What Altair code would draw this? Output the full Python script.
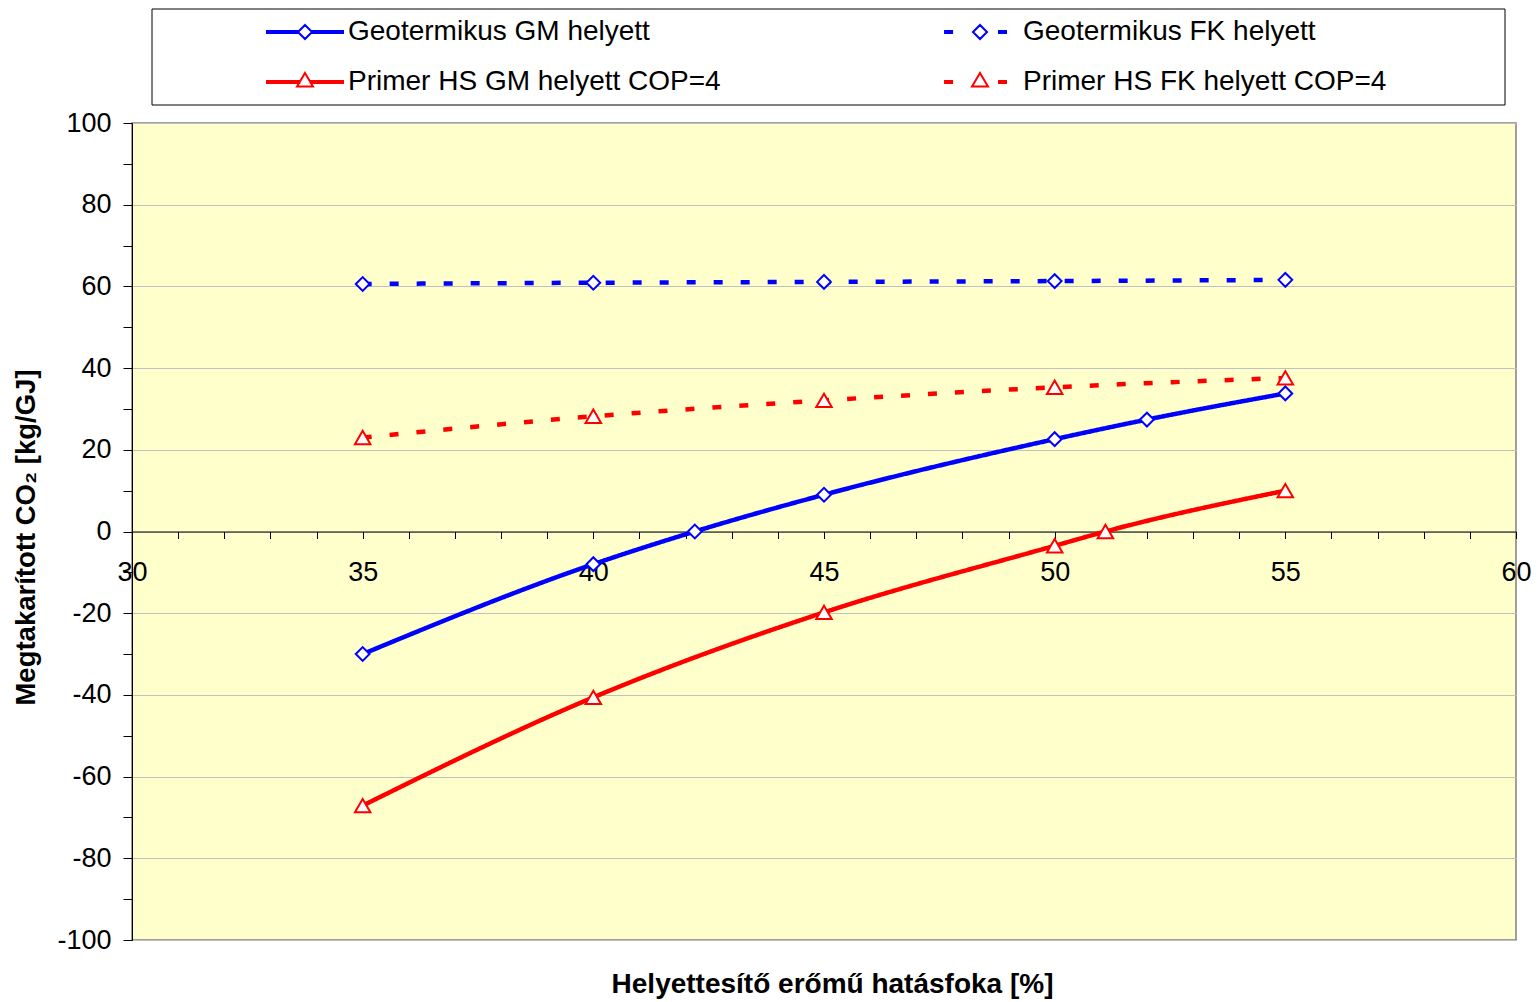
import altair as alt
import pandas as pd

# ---- data ----
series_names = ["Geotermikus GM helyett", "Geotermikus FK helyett",
                "Primer HS GM helyett COP=4", "Primer HS FK helyett COP=4"]

geo_gm_x = [35, 40, 42.2, 45, 50, 52, 55]
geo_gm_y = [-30.0, -8.0, 0.0, 9.0, 22.6, 27.4, 33.8]

geo_fk_x = [35, 40, 45, 50, 55]
geo_fk_y = [60.6, 60.9, 61.1, 61.3, 61.6]

prim_gm_x = [35, 40, 45, 50, 51.1, 55]
prim_gm_y = [-67.1, -40.6, -19.8, -3.5, 0.0, 10.0]

prim_fk_x = [35, 40, 45, 50, 55]
prim_fk_y = [23.0, 28.2, 32.1, 35.3, 37.6]

x_ticks = list(range(30, 61))
y_ticks = list(range(-100, 101, 10))

# ---- styles ----
FONT = "Liberation Sans"
FS = 27
BLUE, RED = "#0000FF", "#FF0000"
legend_colors = [BLUE, BLUE, RED, RED]

# order used by the (legend-less) drawing scales
draw_order = [series_names[0], series_names[2], series_names[1], series_names[3]]
draw_colors = [BLUE, RED, BLUE, RED]
draw_dashes = [[1, 0], [1, 0], [9, 18], [9, 18]]

bar_l = "M-2,-0.05L-0.38,-0.05L-0.38,0.05L-2,0.05Z"
bar_r = "M0.38,-0.05L2,-0.05L2,0.05L0.38,0.05Z"
tbar_l = "M-2,-0.05L-0.3,-0.05L-0.3,0.05L-2,0.05Z"
tbar_r = "M0.3,-0.05L2,-0.05L2,0.05L0.3,0.05Z"
dash_l = "M-1.84,-0.05L-1.47,-0.05L-1.47,0.05L-1.84,0.05Z"
dash_r = "M1,-0.05L1.37,-0.05L1.37,0.05L1,0.05Z"
diamond = "M0,-0.37L0.37,0L0,0.37L-0.37,0Z"
triangle = "M0,-0.48L0.42,0.24L-0.42,0.24Z"
legend_paths = [
    bar_l + bar_r + diamond,
    dash_l + dash_r + diamond,
    tbar_l + tbar_r + triangle,
    dash_l + dash_r + triangle,
]

rows = []
for name, xs, ys in [(series_names[0], geo_gm_x, geo_gm_y),
                     (series_names[1], geo_fk_x, geo_fk_y),
                     (series_names[2], prim_gm_x, prim_gm_y),
                     (series_names[3], prim_fk_x, prim_fk_y)]:
    for xv, yv in zip(xs, ys):
        rows.append({"series": name, "x": xv, "y": yv})
df = pd.DataFrame(rows)

x_axis = alt.Axis(
    values=x_ticks,
    labelExpr="datum.value % 5 == 0 ? '' + datum.value : ''",
    labelOverlap=False, labelFlush=False,
    grid=False,
    offset=-408.5,
    tickSize=7, tickColor="black", tickWidth=1,
    domainColor="black", domainWidth=1,
    labelFontSize=FS, labelFont=FONT, labelColor="black",
    labelBaseline="middle", labelPadding=34,
    title="Helyettesítő erőmű hatásfoka [%]",
    titleFontSize=28, titleFont=FONT, titleFontWeight="bold", titleColor="black",
    titleX=700, titleY=453, titleBaseline="middle",
)
y_axis = alt.Axis(
    values=y_ticks,
    labelExpr="datum.value % 20 == 0 ? '' + datum.value : ''",
    labelOverlap=False,
    grid=True, gridColor="#C0C0C0", gridWidth=1,
    gridOpacity={"condition": {"test": "datum.value % 20 === 0", "value": 1}, "value": 0},
    tickSize=9, tickColor="black", tickWidth=1,
    domainColor="black", domainWidth=1,
    labelFontSize=FS, labelFont=FONT, labelColor="black", labelPadding=12,
    title="Megtakarított CO₂ [kg/GJ]",
    titleFontSize=27.5, titleFont=FONT, titleFontWeight="bold", titleColor="black",
    titleX=-106, titleY=414, titleAngle=270, titleBaseline="middle", titleAlign="center",
)

x_enc = alt.X("x:Q", scale=alt.Scale(domain=[30, 60], nice=False, zero=False), axis=x_axis)
y_enc = alt.Y("y:Q", scale=alt.Scale(domain=[-100, 100], nice=False), axis=y_axis)
color_enc = alt.Color("series:N", scale=alt.Scale(domain=draw_order, range=draw_colors), legend=None)

base = alt.Chart(df)

frame = alt.Chart(alt.Data(values=[{"k": 1}])).mark_rect(
    fill="transparent", stroke="black", strokeWidth=1
).encode(x=alt.value(20), x2=alt.value(1373), y=alt.value(-114), y2=alt.value(-18))

lines = base.mark_line(interpolate="monotone", strokeWidth=4.5, strokeCap="butt").encode(
    x=x_enc, y=y_enc, color=color_enc,
    strokeDash=alt.StrokeDash("series:N", scale=alt.Scale(domain=draw_order, range=draw_dashes), legend=None),
)

diamonds = base.transform_filter(
    alt.FieldOneOfPredicate(field="series", oneOf=series_names[:2])
).mark_point(shape="diamond", size=190, filled=False, fill="white", fillOpacity=1,
             strokeWidth=2, opacity=1).encode(x=x_enc, y=y_enc, color=color_enc)

triangles = base.transform_filter(
    alt.FieldOneOfPredicate(field="series", oneOf=series_names[2:])
).mark_point(shape="triangle-up", size=240, filled=False, fill="white", fillOpacity=1,
             strokeWidth=2, opacity=1).encode(x=x_enc, y=y_enc, color=color_enc)

leg = alt.Legend(
    orient="none", legendX=153, legendY=-111,
    direction="horizontal", columns=2,
    columnPadding=220, rowPadding=16,
    symbolSize=1444, symbolStrokeWidth=2, symbolFillColor="white", symbolOffset=0,
    labelFontSize=28, labelFont=FONT, labelColor="black", labelLimit=1000,
    labelOffset=23, title=None, padding=0,
)
legend_layer = base.transform_filter("datum.x > 1000").mark_point(
    filled=False, fill="white", strokeWidth=2, opacity=1
).encode(
    x=x_enc, y=y_enc,
    stroke=alt.Stroke("series:N", scale=alt.Scale(domain=series_names, range=legend_colors), legend=leg),
    shape=alt.Shape("series:N", scale=alt.Scale(domain=series_names, range=legend_paths), legend=leg),
)

chart = alt.layer(frame, lines, diamonds, triangles, legend_layer).properties(
    width=1384, height=817,
    autosize=alt.AutoSizeParams(type="none"),
    padding={"left": 124, "top": 115, "right": 16, "bottom": 62},
).configure_view(fill="#FFFFCC", stroke="#808080", strokeWidth=1.5)

chart.save("out.html", embed_options={"renderer": "svg", "actions": False})
